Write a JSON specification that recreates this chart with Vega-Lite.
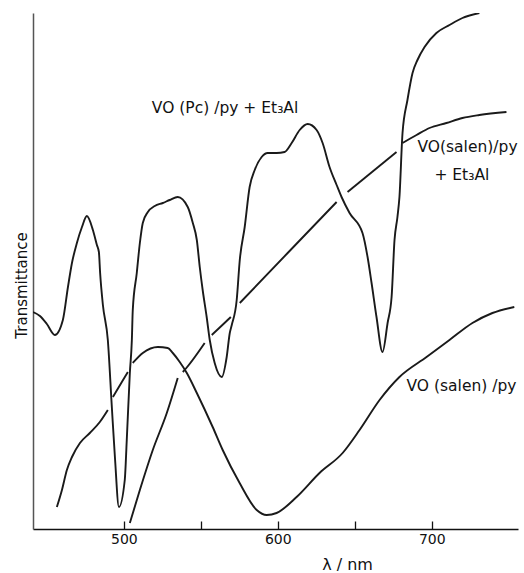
{
  "$schema": "https://vega.github.io/schema/vega-lite/v6.json",
  "width": 485,
  "height": 516,
  "autosize": {"type": "none"},
  "padding": {"left": 33, "top": 13, "right": 6, "bottom": 44},
  "background": "white",
  "config": {"view": {"stroke": null}, "font": "DejaVu Sans"},
  "datasets": {
    "curves": [
      {"s": "A", "nm": 441.0, "t": 217}, {"s": "A", "nm": 445.5, "t": 213}, {"s": "A", "nm": 450.0, "t": 205}, {"s": "A", "nm": 455.2, "t": 194},
      {"s": "A", "nm": 460.4, "t": 209}, {"s": "A", "nm": 463.7, "t": 242}, {"s": "A", "nm": 466.3, "t": 266}, {"s": "A", "nm": 469.5, "t": 286},
      {"s": "A", "nm": 472.8, "t": 302}, {"s": "A", "nm": 476.0, "t": 313}, {"s": "A", "nm": 479.9, "t": 299}, {"s": "A", "nm": 482.5, "t": 284},
      {"s": "A", "nm": 483.8, "t": 277}, {"s": "A", "nm": 484.6, "t": 256}, {"s": "A", "nm": 486.4, "t": 224}, {"s": "A", "nm": 489.6, "t": 189},
      {"s": "A", "nm": 492.2, "t": 122}, {"s": "A", "nm": 494.2, "t": 72}, {"s": "A", "nm": 496.8, "t": 22}, {"s": "A", "nm": 500.6, "t": 49},
      {"s": "A", "nm": 501.9, "t": 89}, {"s": "A", "nm": 503.9, "t": 156}, {"s": "A", "nm": 505.2, "t": 189}, {"s": "A", "nm": 505.8, "t": 219},
      {"s": "A", "nm": 508.4, "t": 256}, {"s": "A", "nm": 510.4, "t": 286}, {"s": "A", "nm": 512.3, "t": 306}, {"s": "A", "nm": 515.6, "t": 317},
      {"s": "A", "nm": 520.1, "t": 323}, {"s": "A", "nm": 525.3, "t": 326}, {"s": "A", "nm": 529.8, "t": 329}, {"s": "A", "nm": 535.0, "t": 332},
      {"s": "A", "nm": 541.5, "t": 322}, {"s": "A", "nm": 544.8, "t": 306}, {"s": "A", "nm": 547.4, "t": 289}, {"s": "A", "nm": 549.3, "t": 262},
      {"s": "A", "nm": 551.2, "t": 239}, {"s": "A", "nm": 553.8, "t": 212}, {"s": "A", "nm": 555.8, "t": 189}, {"s": "A", "nm": 559.0, "t": 166},
      {"s": "A", "nm": 563.6, "t": 152}, {"s": "A", "nm": 566.8, "t": 172}, {"s": "A", "nm": 568.8, "t": 196}, {"s": "A", "nm": 570.1, "t": 204},
      {"s": "A", "nm": 573.3, "t": 229}, {"s": "A", "nm": 575.3, "t": 269}, {"s": "A", "nm": 578.5, "t": 302}, {"s": "A", "nm": 581.7, "t": 342},
      {"s": "A", "nm": 585.0, "t": 359}, {"s": "A", "nm": 589.5, "t": 372}, {"s": "A", "nm": 593.4, "t": 376}, {"s": "A", "nm": 599.2, "t": 376},
      {"s": "A", "nm": 604.4, "t": 377}, {"s": "A", "nm": 609.0, "t": 386}, {"s": "A", "nm": 614.2, "t": 399}, {"s": "A", "nm": 619.4, "t": 405},
      {"s": "A", "nm": 625.2, "t": 399}, {"s": "A", "nm": 629.1, "t": 386}, {"s": "A", "nm": 633.6, "t": 362}, {"s": "A", "nm": 638.2, "t": 344},
      {"s": "A", "nm": 641.4, "t": 332}, {"s": "A", "nm": 646.6, "t": 316}, {"s": "A", "nm": 655.0, "t": 296}, {"s": "A", "nm": 658.3, "t": 272},
      {"s": "A", "nm": 660.9, "t": 246}, {"s": "A", "nm": 664.1, "t": 212}, {"s": "A", "nm": 668.0, "t": 177}, {"s": "A", "nm": 671.3, "t": 206},
      {"s": "A", "nm": 673.9, "t": 232}, {"s": "A", "nm": 675.8, "t": 289}, {"s": "A", "nm": 677.7, "t": 312}, {"s": "A", "nm": 679.0, "t": 332},
      {"s": "A", "nm": 681.0, "t": 396}, {"s": "A", "nm": 684.2, "t": 429}, {"s": "A", "nm": 687.5, "t": 456}, {"s": "A", "nm": 690.7, "t": 469},
      {"s": "A", "nm": 695.3, "t": 482}, {"s": "A", "nm": 703.0, "t": 496}, {"s": "A", "nm": 711.5, "t": 504}, {"s": "A", "nm": 719.9, "t": 511},
      {"s": "A", "nm": 730.9, "t": 516},

      {"s": "C1", "nm": 456.5, "t": 22}, {"s": "C1", "nm": 459.8, "t": 39}, {"s": "C1", "nm": 463.0, "t": 59}, {"s": "C1", "nm": 466.3, "t": 72},
      {"s": "C1", "nm": 471.5, "t": 86}, {"s": "C1", "nm": 477.9, "t": 96}, {"s": "C1", "nm": 484.4, "t": 107}, {"s": "C1", "nm": 489.6, "t": 119},
      {"s": "C2", "nm": 492.9, "t": 132}, {"s": "C2", "nm": 498.7, "t": 147}, {"s": "C2", "nm": 502.6, "t": 157},
      {"s": "C3", "nm": 505.8, "t": 166}, {"s": "C3", "nm": 512.3, "t": 176}, {"s": "C3", "nm": 522.1, "t": 182}, {"s": "C3", "nm": 528.5, "t": 181},
      {"s": "C3", "nm": 531.8, "t": 176}, {"s": "C3", "nm": 536.3, "t": 167}, {"s": "C3", "nm": 540.9, "t": 156}, {"s": "C3", "nm": 547.4, "t": 136},
      {"s": "C3", "nm": 557.7, "t": 102}, {"s": "C3", "nm": 564.2, "t": 79}, {"s": "C3", "nm": 575.2, "t": 46}, {"s": "C3", "nm": 586.3, "t": 19},
      {"s": "C3", "nm": 592.8, "t": 14}, {"s": "C3", "nm": 599.2, "t": 16}, {"s": "C3", "nm": 612.2, "t": 32}, {"s": "C3", "nm": 627.1, "t": 56},
      {"s": "C3", "nm": 642.1, "t": 76}, {"s": "C3", "nm": 653.1, "t": 99}, {"s": "C3", "nm": 666.1, "t": 129}, {"s": "C3", "nm": 679.0, "t": 152},
      {"s": "C3", "nm": 696.6, "t": 172}, {"s": "C3", "nm": 711.5, "t": 189}, {"s": "C3", "nm": 726.4, "t": 206}, {"s": "C3", "nm": 739.4, "t": 216},
      {"s": "C3", "nm": 753.6, "t": 222},

      {"s": "B1", "nm": 503.9, "t": 6}, {"s": "B1", "nm": 510.4, "t": 39}, {"s": "B1", "nm": 518.8, "t": 79}, {"s": "B1", "nm": 527.9, "t": 116},
      {"s": "B1", "nm": 535.0, "t": 151},
      {"s": "B2", "nm": 538.3, "t": 157}, {"s": "B2", "nm": 540.6, "t": 161}, {"s": "B2", "nm": 552.5, "t": 186},
      {"s": "B3", "nm": 557.1, "t": 194}, {"s": "B3", "nm": 569.5, "t": 212},
      {"s": "B4", "nm": 575.3, "t": 226}, {"s": "B4", "nm": 606.4, "t": 276}, {"s": "B4", "nm": 638.2, "t": 327},
      {"s": "B5", "nm": 645.3, "t": 337}, {"s": "B5", "nm": 677.1, "t": 377},
      {"s": "B6", "nm": 681.0, "t": 386}, {"s": "B6", "nm": 690.1, "t": 394}, {"s": "B6", "nm": 698.5, "t": 401}, {"s": "B6", "nm": 709.5, "t": 406},
      {"s": "B6", "nm": 719.9, "t": 411}, {"s": "B6", "nm": 730.9, "t": 414}, {"s": "B6", "nm": 748.5, "t": 417}
    ],
    "labels": [
      {"nm": 518.2, "t": 421, "label": "VO (Pc) /py + Et₃Al"},
      {"nm": 690.7, "t": 382, "label": "VO(salen)/py"},
      {"nm": 701.7, "t": 354, "label": "+ Et₃Al"},
      {"nm": 683.6, "t": 143, "label": "VO (salen) /py"}
    ]
  },
  "layer": [
    {
      "data": {"name": "curves"},
      "mark": {"type": "line", "color": "#1a1a1a", "strokeWidth": 1.9, "interpolate": "monotone", "clip": true},
      "encoding": {
        "x": {
          "field": "nm", "type": "quantitative",
          "scale": {"domain": [441, 756], "nice": false, "zero": false},
          "axis": {
            "values": [500, 550, 600, 650, 700],
            "labelExpr": "datum.value % 100 == 0 ? datum.label : ''",
            "grid": false,
            "domainColor": "#111", "domainWidth": 1.5,
            "tickColor": "#111", "tickWidth": 1.3, "tickSize": -8,
            "labelFont": "DejaVu Sans", "labelFontSize": 14, "labelColor": "#111", "labelPadding": 11,
            "title": "λ / nm", "titleFont": "DejaVu Sans", "titleFontSize": 16, "titleFontWeight": "normal", "titleColor": "#111",
            "titleX": 314, "titleY": 40, "titleBaseline": "alphabetic", "titleAlign": "center"
          }
        },
        "y": {
          "field": "t", "type": "quantitative",
          "scale": {"domain": [0, 516], "nice": false, "zero": false},
          "axis": {
            "ticks": false, "labels": false, "grid": false,
            "domainColor": "#555", "domainWidth": 1.5,
            "title": "Transmittance", "titleFont": "DejaVu Sans", "titleFontSize": 15, "titleFontWeight": "normal", "titleColor": "#111",
            "titleAngle": -90, "titleX": -7, "titleY": 272, "titleBaseline": "alphabetic", "titleAlign": "center"
          }
        },
        "detail": {"field": "s"}
      }
    },
    {
      "data": {"name": "labels"},
      "mark": {"type": "text", "align": "left", "baseline": "middle", "font": "DejaVu Sans", "fontSize": 15.5, "color": "#111"},
      "encoding": {
        "x": {"field": "nm", "type": "quantitative"},
        "y": {"field": "t", "type": "quantitative"},
        "text": {"field": "label"}
      }
    }
  ]
}
